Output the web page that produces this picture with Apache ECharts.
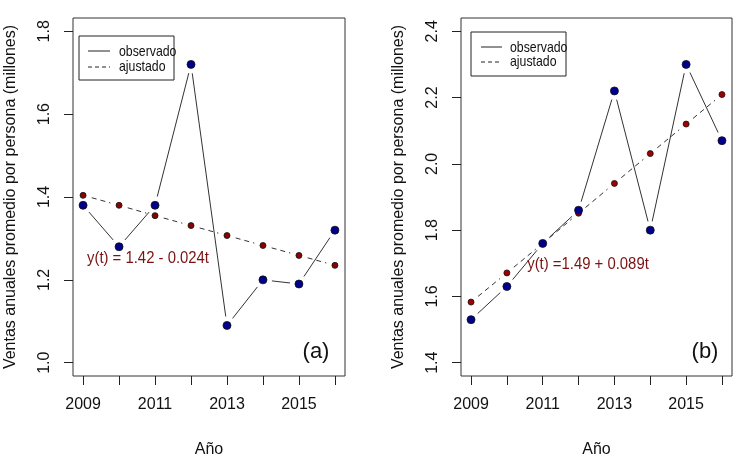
<!DOCTYPE html>
<html>
<head>
<meta charset="utf-8">
<script src="https://cdn.jsdelivr.net/npm/echarts@6/dist/echarts.min.js"></script>
<style>html,body{margin:0;padding:0;background:#fff}#c{width:738px;height:466px}</style>
</head>
<body>
<div id="c"></div>
<script>
var years = [2009, 2010, 2011, 2012, 2013, 2014, 2015, 2016];
var obsA = [1.38, 1.28, 1.38, 1.72, 1.09, 1.20, 1.19, 1.32];
var fitA = [1.404, 1.380, 1.355, 1.331, 1.307, 1.283, 1.259, 1.235];
var obsB = [1.53, 1.63, 1.76, 1.86, 2.22, 1.80, 2.30, 2.07];
var fitB = [1.583, 1.671, 1.760, 1.851, 1.941, 2.031, 2.120, 2.209];
var xTickLabels = [2009, 2011, 2013, 2015];
var yTicksA = [1.0, 1.2, 1.4, 1.6, 1.8];
var yTicksB = [1.4, 1.6, 1.8, 2.0, 2.2, 2.4];
var eqA = 'y(t) = 1.42 - 0.024t';
var eqB = 'y(t) =1.49 + 0.089t';
var yTitle = 'Ventas anuales promedio por persona (millones)';
var xTitle = 'Año';

var FONT = 'Liberation Sans, Arial, sans-serif';

function pts(vals) { return years.map(function (y, i) { return [y, vals[i]]; }); }
function segs(vals) {
  var s = [];
  for (var i = 0; i < years.length - 1; i++) s.push([years[i], vals[i], years[i + 1], vals[i + 1]]);
  return s;
}
function segSeries(idx, vals, dashed) {
  return {
    type: 'custom', xAxisIndex: idx, yAxisIndex: idx, z: 2,
    encode: { x: [0, 2], y: [1, 3] },
    data: segs(vals),
    renderItem: function (params, api) {
      var p1 = api.coord([api.value(0), api.value(1)]);
      var p2 = api.coord([api.value(2), api.value(3)]);
      var dx = p2[0] - p1[0], dy = p2[1] - p1[1];
      var L = Math.sqrt(dx * dx + dy * dy), g = 9;
      if (L <= 2 * g) return null;
      var ux = dx / L, uy = dy / L;
      return {
        type: 'line',
        shape: { x1: p1[0] + ux * g, y1: p1[1] + uy * g, x2: p2[0] - ux * g, y2: p2[1] - uy * g },
        style: { stroke: '#333', lineWidth: 1, lineDash: dashed ? [5, 4] : null }
      };
    }
  };
}
function ptSeries(idx, vals, color, size, sym) {
  return {
    type: 'scatter', xAxisIndex: idx, yAxisIndex: idx, z: 3,
    symbol: sym, symbolSize: size, data: pts(vals),
    itemStyle: { color: color, borderColor: '#111', borderWidth: 0.8, opacity: 1 }
  };
}
function xAx(idx) {
  return {
    type: 'value', gridIndex: idx, min: 2008.72, max: 2016.28,
    name: xTitle, nameLocation: 'middle', nameGap: 66,
    nameTextStyle: { fontFamily: FONT, fontSize: 16, color: '#111' },
    axisLine: { show: false },
    axisTick: { show: true, length: 9, customValues: years, lineStyle: { color: '#222' } },
    axisLabel: { customValues: xTickLabels, margin: 21, fontFamily: FONT, fontSize: 16, color: '#111',
      formatter: function (v) { return String(Math.round(v)); } },
    splitLine: { show: false }
  };
}
function yAx(idx, mn, mx, ticks) {
  return {
    type: 'value', gridIndex: idx, min: mn, max: mx,
    name: yTitle, nameLocation: 'middle', nameGap: 54,
    nameTextStyle: { fontFamily: FONT, fontSize: 16, color: '#111' },
    axisLine: { show: false },
    axisTick: { show: true, length: 9, customValues: ticks, lineStyle: { color: '#222' } },
    axisLabel: { customValues: ticks, rotate: 90, margin: 20, fontFamily: FONT, fontSize: 16, color: '#111',
      formatter: function (v) { return v.toFixed(1); } },
    splitLine: { show: false }
  };
}
function legend(x0, y0, x1, y1, lx0, lx1, ly1, ly2, tx) {
  return [
    { type: 'rect', shape: { x: x0, y: y0, width: x1 - x0, height: y1 - y0 }, style: { fill: '#fff', stroke: '#222', lineWidth: 1 }, z: 10 },
    { type: 'line', shape: { x1: lx0, y1: ly1, x2: lx1, y2: ly1 }, style: { stroke: '#222', lineWidth: 1 }, z: 11 },
    { type: 'line', shape: { x1: lx0, y1: ly2, x2: lx1, y2: ly2 }, style: { stroke: '#222', lineWidth: 1, lineDash: [4, 3] }, z: 11 },
    { type: 'text', x: tx, y: ly1 + 1, scaleX: 0.82, style: { text: 'observado', font: '15px ' + FONT, fill: '#111', textVerticalAlign: 'middle' }, z: 11 },
    { type: 'text', x: tx, y: ly2, scaleX: 0.82, style: { text: 'ajustado', font: '15px ' + FONT, fill: '#111', textVerticalAlign: 'middle' }, z: 11 }
  ];
}

var chart = echarts.init(document.getElementById('c'));
chart.setOption({
  animation: false,
  backgroundColor: '#fff',
  grid: [
    { left: 73, top: 18, width: 272, height: 358, show: true, borderColor: '#333', borderWidth: 1, backgroundColor: 'transparent' },
    { left: 461, top: 18, width: 271, height: 358, show: true, borderColor: '#333', borderWidth: 1, backgroundColor: 'transparent' }
  ],
  xAxis: [xAx(0), xAx(1)],
  yAxis: [yAx(0, 0.968, 1.832, yTicksA), yAx(1, 1.36, 2.44, yTicksB)],
  series: [
    segSeries(0, obsA, false), segSeries(0, fitA, true),
    ptSeries(0, fitA, '#8B0000', 6, 'circle'), ptSeries(0, obsA, '#00008B', 8, 'circle'),
    segSeries(1, obsB, false), segSeries(1, fitB, true),
    ptSeries(1, fitB, '#A00000', 6, 'circle'), ptSeries(1, obsB, '#00008B', 8, 'circle')
  ],
  graphic: [].concat(
    legend(79, 36, 174, 80, 88, 110, 51, 67, 119),
    legend(471, 32, 566, 76, 481, 502, 47, 62, 510),
    [
      { type: 'text', x: 148, y: 259, scaleX: 0.93, originX: 0, style: { text: eqA, font: '16px ' + FONT, fill: '#7A1212', textAlign: 'center', textVerticalAlign: 'middle' }, z: 12 },
      { type: 'text', x: 588, y: 265, scaleX: 0.93, style: { text: eqB, font: '16px ' + FONT, fill: '#7A1212', textAlign: 'center', textVerticalAlign: 'middle' }, z: 12 },
      { type: 'text', x: 316, y: 352, style: { text: '(a)', font: '22px ' + FONT, fill: '#111', textAlign: 'center', textVerticalAlign: 'middle' }, z: 12 },
      { type: 'text', x: 705, y: 352, style: { text: '(b)', font: '22px ' + FONT, fill: '#111', textAlign: 'center', textVerticalAlign: 'middle' }, z: 12 }
    ]
  )
});
</script>
</body>
</html>
